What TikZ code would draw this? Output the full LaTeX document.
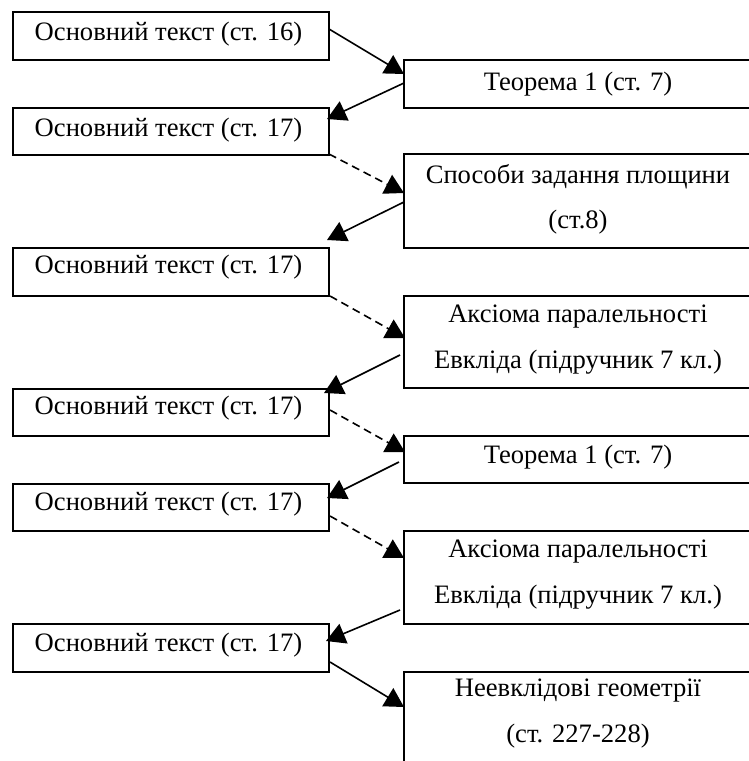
\documentclass[tikz,border=0pt]{standalone}
\usepackage{fontspec}
\setmainfont{Liberation Serif}
\usetikzlibrary{arrows.meta}
\begin{document}
\begin{tikzpicture}[x=1pt,y=-1pt,
  box/.style={draw, line width=2pt, outer sep=0pt, inner sep=0pt},
  lbox/.style={box, minimum width=316pt},
  rbox/.style={box, minimum width=348pt},
  lbl/.style={anchor=base, inner sep=0pt, font=\fontsize{26.6}{26.6}\selectfont},
  arr/.style={line width=1.6pt, -{Triangle[length=19pt,width=21pt]}},
  dsh/.style={arr, dash pattern=on 8pt off 5pt}]
\clip (0,0) rectangle (749,761);
% left boxes
\node[lbox, minimum height=48pt] (L1) at (171,36) {};
\node[lbox, minimum height=47pt] (L2) at (171,131.5) {};
\node[lbox, minimum height=48pt] (L3) at (171,272) {};
\node[lbox, minimum height=47pt] (L4) at (171,412.5) {};
\node[lbox, minimum height=47pt] (L5) at (171,507.5) {};
\node[lbox, minimum height=48pt] (L6) at (171,648) {};
% right boxes
\node[rbox, minimum height=48pt] (R1) at (578,84) {};
\node[rbox, minimum height=94pt] (R2) at (578,201) {};
\node[rbox, minimum height=92pt] (R3) at (578,342) {};
\node[rbox, minimum height=47pt] (R4) at (578,459.5) {};
\node[rbox, minimum height=93pt] (R5) at (578,577.5) {};
\node[rbox, minimum height=128pt] (R6) at (578,736) {};
% labels
\node[lbl] (t1) at (168.5,40.5) {Основний текст (ст. 16)};
\node[lbl] (t2) at (168.5,136) {Основний текст (ст. 17)};
\node[lbl] (t3) at (168.5,273.3) {Основний текст (ст. 17)};
\node[lbl] (t4) at (168.5,414) {Основний текст (ст. 17)};
\node[lbl] (t5) at (168.5,510.7) {Основний текст (ст. 17)};
\node[lbl] (t6) at (168.5,651.7) {Основний текст (ст. 17)};
\node[lbl] (u1) at (578,90.5) {Теорема 1 (ст. 7)};
\node[lbl] (u2a) at (578,183) {Способи задання площини};
\node[lbl] (u2b) at (578,228) {(ст.8)};
\node[lbl] (u3a) at (578,322) {Аксіома паралельності};
\node[lbl] (u3b) at (578,368) {Евкліда (підручник 7 кл.)};
\node[lbl] (u4) at (578,463) {Теорема 1 (ст. 7)};
\node[lbl] (u5a) at (578,557) {Аксіома паралельності};
\node[lbl] (u5b) at (578,603) {Евкліда (підручник 7 кл.)};
\node[lbl] (u6a) at (578,696) {Неевклідові геометрії};
\node[lbl] (u6b) at (578,742) {(ст. 227-228)};
% connectors
\draw[arr] ([shift={(0,17)}]L1.north east) -- ([shift={(0,14)}]R1.north west);
\draw[arr] ([shift={(0,23)}]R1.north west) -- ([shift={(-2,11)}]L2.north east);
\draw[dsh] ([shift={(0,-1)}]L2.south east) -- ([shift={(0,39)}]R2.north west);
\draw[arr] ([shift={(0,48)}]R2.north west) -- ([shift={(-2,-8)}]L3.north east);
\draw[dsh] ([shift={(1,0)}]L3.south east) -- ([shift={(1,42)}]R3.north west);
\draw[arr] ([shift={(-4,59)}]R3.north west) -- ([shift={(-5,4)}]L4.north east);
\draw[dsh] ([shift={(1,21)}]L4.north east) -- ([shift={(1,16)}]R4.north west);
\draw[arr] ([shift={(-5,26)}]R4.north west) -- ([shift={(-2,14)}]L5.north east);
\draw[dsh] ([shift={(1,32)}]L5.north east) -- ([shift={(0,27)}]R5.north west);
\draw[arr] ([shift={(-4,79)}]R5.north west) -- ([shift={(-3,17)}]L6.north east);
\draw[arr] ([shift={(1,38)}]L6.north east) -- ([shift={(0,35)}]R6.north west);
\end{tikzpicture}
\end{document}
